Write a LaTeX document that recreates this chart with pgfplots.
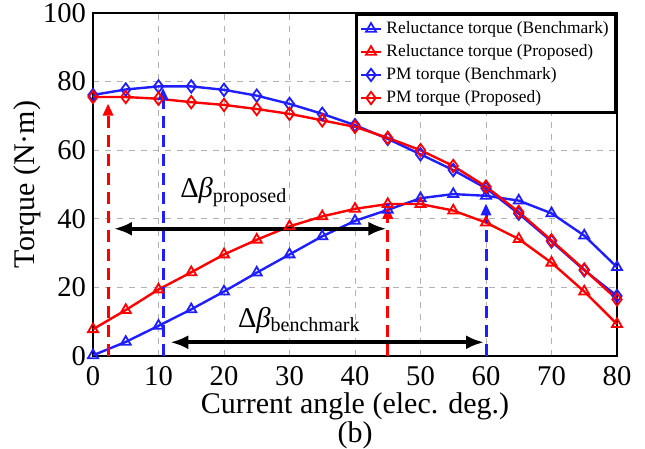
\documentclass[border=0pt]{standalone}
\usepackage{fontspec}
\setmainfont{Liberation Serif}
\usepackage{pgfplots}
\pgfplotsset{compat=1.18}
\usetikzlibrary{arrows.meta}
\definecolor{bl}{RGB}{30,30,255}
\definecolor{rd}{RGB}{255,0,0}
\begin{document}
\begin{tikzpicture}
\begin{axis}[
 width=262pt, height=171.5pt, scale only axis,
 xmin=0, xmax=80, ymin=0, ymax=100,
 xtick={0,10,...,80}, ytick={0,20,...,100},
 /pgf/number format/assume math mode=true,
 tick label style={font=\fontsize{14.3}{16}\selectfont},
 xticklabel style={yshift=-1.5pt},
 label style={font=\fontsize{15}{17}\selectfont},
 xlabel={Current angle (elec. deg.)},
 ylabel={Torque (N·m)},
 xlabel style={yshift=3pt},
 ylabel style={yshift=-6pt},
 grid=major, grid style={dashed, gray!60, line width=0.4pt},
 axis line style={line width=1.2pt},
 tick style={draw=none},
 clip=false,
 legend style={at={(1,1)}, anchor=north east, draw=black, line width=1.3pt,
   font=\fontsize{8.7}{10}\selectfont, cells={anchor=west}, inner sep=1.5pt,
   row sep=0pt},
 legend image code/.code={\draw[mark repeat=2,mark phase=2] plot coordinates {(0cm,0cm)(0.18cm,0cm)(0.36cm,0cm)};},
 every axis plot/.append style={line width=1.2pt, mark size=2.9pt, mark options={solid, fill=white, line width=0.9pt}},
]
\addplot[bl, mark=triangle] coordinates {
(0,0.2)(5,4.1)(10,8.8)(15,13.6)(20,18.8)(25,24.3)(30,29.6)(35,34.9)(40,39.4)
(45,42.6)(50,46.0)(55,47.2)(60,46.7)(65,45.3)(70,41.6)(75,35.1)(80,25.9)};
\addlegendentry{Reluctance torque (Benchmark)}
\addplot[rd, mark=triangle] coordinates {
(0,7.8)(5,13.4)(10,19.4)(15,24.4)(20,29.6)(25,33.9)(30,37.8)(35,40.7)(40,42.9)
(45,44.3)(50,44.3)(55,42.4)(60,38.9)(65,34.1)(70,27.2)(75,18.8)(80,9.3)};
\addlegendentry{Reluctance torque (Proposed)}
\addplot[bl, mark=diamond, mark size=3.1pt] coordinates {
(0,76.1)(5,77.7)(10,78.6)(15,78.6)(20,77.6)(25,75.9)(30,73.5)(35,70.6)(40,67.3)
(45,63.3)(50,58.8)(55,54.2)(60,48.9)(65,41.5)(70,33.4)(75,25.0)(80,17.5)};
\addlegendentry{PM torque (Benchmark)}
\addplot[rd, mark=diamond, mark size=3.1pt] coordinates {
(0,75.5)(5,75.5)(10,75.0)(15,74.0)(20,73.2)(25,72.0)(30,70.6)(35,68.7)(40,66.8)
(45,63.6)(50,60.0)(55,55.4)(60,49.4)(65,42.0)(70,33.7)(75,25.2)(80,16.5)};
\addlegendentry{PM torque (Proposed)}
% annotations
\addplot[forget plot, rd, line width=1.5pt, dash pattern=on 6pt off 3.5pt, -{Triangle[length=6pt,width=5pt]}, mark=none] coordinates {(2.3,0)(2.3,73.6)};
\addplot[forget plot, bl, line width=1.5pt, dash pattern=on 6pt off 3.5pt, -{Triangle[length=6pt,width=5pt]}, mark=none] coordinates {(10.7,0)(10.7,78.2)};
\addplot[forget plot, rd, line width=1.5pt, dash pattern=on 6pt off 3.5pt, -{Triangle[length=6pt,width=5pt]}, mark=none] coordinates {(45,0)(45,43.5)};
\addplot[forget plot, bl, line width=1.5pt, dash pattern=on 6pt off 3.5pt, -{Triangle[length=6pt,width=5pt]}, mark=none] coordinates {(60,0)(60,44.5)};
\addplot[forget plot, black, line width=1.8pt, {Latex[length=9pt,width=7pt]}-{Latex[length=9pt,width=7pt]}, mark=none] coordinates {(3.2,37.1)(44.8,37.1)};
\addplot[forget plot, black, line width=1.8pt, {Latex[length=9pt,width=7pt]}-{Latex[length=9pt,width=7pt]}, mark=none] coordinates {(11.8,4.0)(59.7,4.0)};
\node[font=\fontsize{14.3}{16}\selectfont] at (axis cs:21.5,47.8) {Δ\textit{β}\textsubscript{proposed}};
\node[font=\fontsize{14.3}{16}\selectfont] at (axis cs:31.5,10.5) {Δ\textit{β}\textsubscript{benchmark}};
\end{axis}
\node[font=\fontsize{15}{17}\selectfont] at ([yshift=-39.5pt]current axis.south) {(b)};
\pgfresetboundingbox
\path ([shift={(-46.5pt,-46pt)}]current axis.south west) rectangle ([shift={(14pt,6.5pt)}]current axis.north east);
\end{tikzpicture}
\end{document}
